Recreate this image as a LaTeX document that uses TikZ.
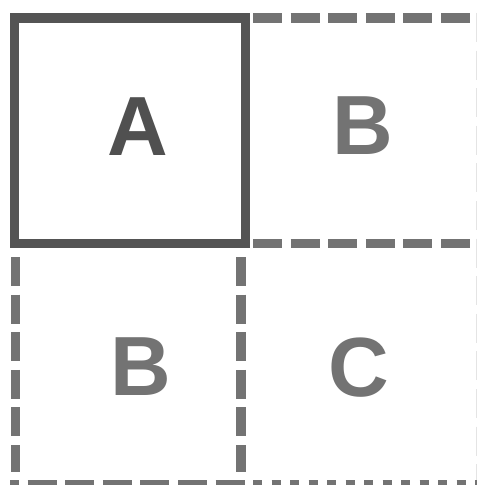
\documentclass[tikz,border=0pt]{standalone}
\usepackage{fontspec}
\setmainfont{Liberation Sans}
\definecolor{boxdark}{HTML}{545454}
\definecolor{dashgray}{HTML}{737373}
\definecolor{letterA}{HTML}{505050}
\definecolor{faint}{HTML}{E4E4E4}
\begin{document}
\begin{tikzpicture}[x=1bp,y=-1bp,
  solidbox/.style={draw=boxdark,line width=9.5bp},
  longdash/.style={draw=dashgray,line width=9.5bp,dash pattern=on 29bp off 8.6bp},
  shortdash/.style={draw=dashgray,line width=9.5bp,dash pattern=on 9bp off 9.5bp},
  faintline/.style={draw=faint,line width=1bp,dash pattern=on 29bp off 8.6bp},
  lbl/.style={font=\fontsize{84bp}{84bp}\selectfont\bfseries,text=dashgray,inner sep=0pt}]
\useasboundingbox[fill=white] (0,0) rectangle (477,485);
% right faint edge
\draw[faintline] (476,13) -- (476,485);
% top-left solid box
\draw[solidbox] (14.5,18) rectangle (245.5,243.5);
% top-right dashed lines
\draw[longdash] (253,18) -- (470,18);
\draw[longdash] (253,243.5) -- (470,243.5);
% bottom-left dashed verticals
\draw[longdash] (15.5,257) -- (15.5,472);
\draw[longdash] (241,257) -- (241,472);
% bottom dashed line
\draw[longdash,dash phase=20bp] (10,484.5) -- (245,484.5);
\draw[shortdash] (253,484.5) -- (477,484.5);
% labels
\node[lbl,text=letterA] (a) at (137.5,127) {A};
\node[lbl] (b1) at (362.5,126) {B};
\node[lbl] (b2) at (141,367) {B};
\node[lbl] (c) at (358.5,368) {C};
\end{tikzpicture}
\end{document}
